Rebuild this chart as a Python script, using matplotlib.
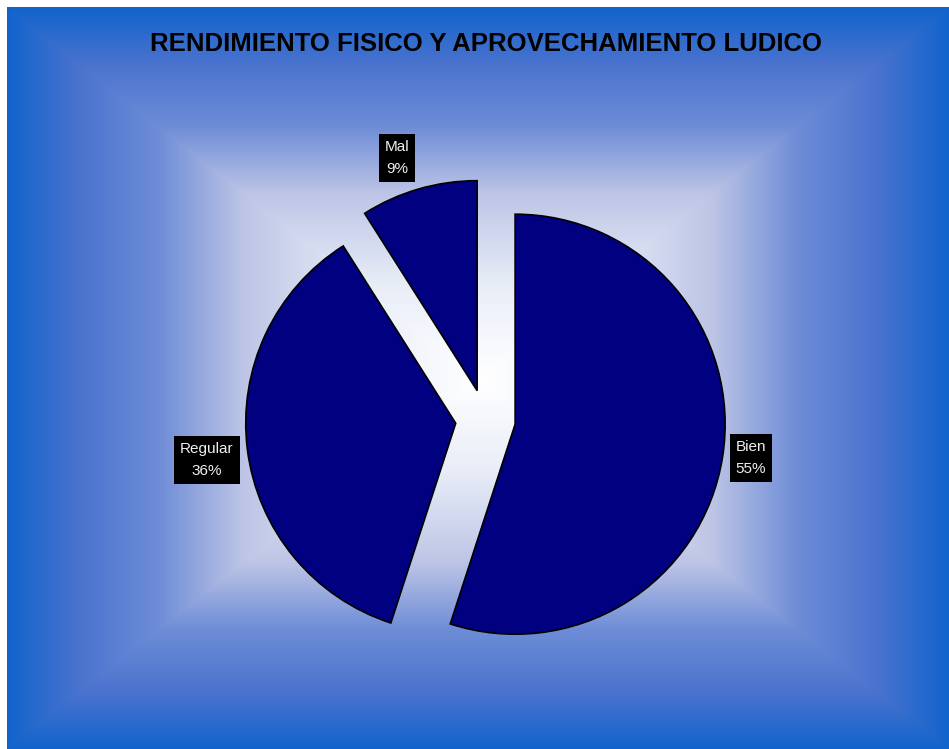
import matplotlib
matplotlib.use("Agg")
import matplotlib.pyplot as plt
from matplotlib.colors import LinearSegmentedColormap
import numpy as np

# datos del grafico
categorias = ["Bien", "Regular", "Mal"]
porcentajes = [55, 36, 9]
titulo = "RENDIMIENTO FISICO Y APROVECHAMIENTO LUDICO"

W, H = 949, 749
plt.rcParams['font.family'] = ['Liberation Sans', 'DejaVu Sans']

fig = plt.figure(figsize=(W / 100, H / 100), dpi=100)
fig.patch.set_facecolor('white')

# fondo con degradado rectangular desde el centro
bg = fig.add_axes([7 / W, 0, (W - 7) / W, (H - 7) / H])
bg.set_axis_off()
nx, ny = 942, 742
xx = np.abs(np.linspace(-1, 1, nx))[None, :]
yy = np.abs(np.linspace(-1, 1, ny))[:, None]
t = np.maximum(xx, yy)
stops = [(0.0, (1.0, 1.0, 1.0)),
         (0.25, (0.91, 0.93, 0.97)),
         (0.50, (0.74, 0.77, 0.90)),
         (0.68, (0.43, 0.55, 0.84)),
         (0.85, (0.29, 0.45, 0.81)),
         (1.0, (0.07, 0.39, 0.80))]
cmap = LinearSegmentedColormap.from_list('fondo', stops)
bg.imshow(t, cmap=cmap, vmin=0, vmax=1, aspect='auto', interpolation='bilinear')

ax = fig.add_axes([0, 0, 1, 1])
ax.set_axis_off()
ax.patch.set_alpha(0)

radio = 210
centro = (485.5, H - 419.5)
# explode en pixeles (pie lo usa en unidades de datos)
separacion = 30
wedges, _ = ax.pie(porcentajes, radius=radio, center=centro, startangle=90,
                   counterclock=False, explode=[separacion] * 3,
                   colors=['#000080'] * 3,
                   wedgeprops=dict(edgecolor='black', linewidth=1.2))
ax.set_xlim(0, W)
ax.set_ylim(0, H)
ax.set_aspect('equal')

# posiciones de las etiquetas (pixeles)
pos_etiquetas = [(751, H - 458), (207, H - 460), (397, H - 158)]
for nombre, p, (lx, ly) in zip(categorias, porcentajes, pos_etiquetas):
    ax.text(lx, ly, f"{nombre}\n{p}%", ha='center', va='center',
            multialignment='center', fontsize=11, color='#f0f0f0',
            linespacing=1.65,
            bbox=dict(boxstyle='square,pad=0.4', facecolor='black',
                      edgecolor='none'))

fig.text(486 / W, 1 - 44 / H, titulo, ha='center', va='center',
         fontsize=18.5, fontweight='bold', color='black')

fig.savefig('out.png', dpi=100)
